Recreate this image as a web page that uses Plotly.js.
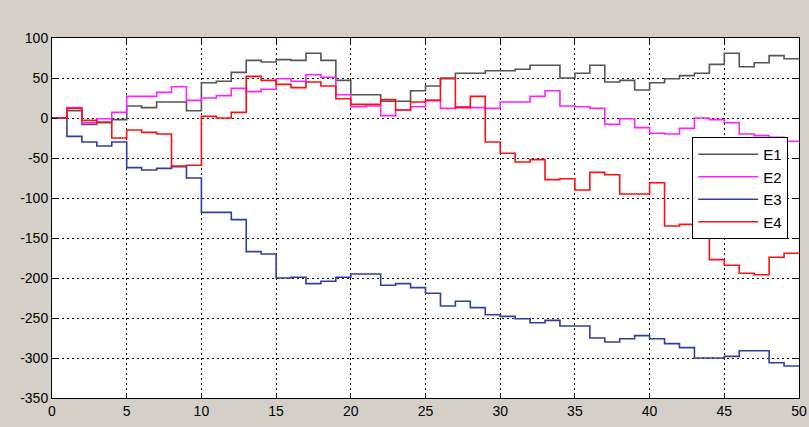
<!DOCTYPE html>
<html>
<head>
<meta charset="utf-8">
<script src="https://cdn.plot.ly/plotly-3.0.1.min.js"></script>
<style>html,body{margin:0;padding:0;background:#d4d0c8;}#chart{width:809px;height:427px;}</style>
</head>
<body>
<div id="chart"></div>
<script>
const xSteps = [0,1,2,3,4,5,6,7,8,9,10,11,12,13,14,15,16,17,18,19,20,21,22,23,24,25,26,27,28,29,30,31,32,33,34,35,36,37,38,39,40,41,42,43,44,45,46,47,48,49,50];
const seriesNames = ["E1","E2","E3","E4"];
const e1 = [0,9,-8,-6,-2,15,13,20,20,9,44,46,57,72,70,73,72,81,72,47,29,29,21,21,34,40,49,56,56,59,59,61,66,66,50,56,66,45,47,35,44,49,53,56,67,81,64,69,78,74,74];
const e2 = [0,13,-6,-1,7,27,27,32,39,22,25,28,37,33,36,49,46,54,51,29,14,15,3,10,14,22,12,14,13,12,20,20,27,34,15,14,12,-8,-1,-12,-19,-20,-13,0,-2,-6,-20,-22,-24,-29,-29];
const e3 = [0,-23,-30,-35,-30,-62,-65,-63,-61,-75,-118,-118,-127,-167,-170,-200,-199,-207,-204,-199,-195,-195,-209,-207,-212,-219,-235,-229,-237,-246,-248,-251,-256,-253,-260,-260,-275,-280,-276,-272,-276,-282,-287,-300,-300,-298,-291,-291,-306,-310,-310];
const e4 = [0,12,-3,-5,-25,-15,-18,-20,-60,-59,2,0,7,52,47,42,38,45,40,24,17,17,23,10,20,22,50,13,27,-30,-44,-55,-52,-77,-76,-90,-68,-71,-95,-95,-81,-135,-133,-150,-177,-184,-194,-196,-174,-169,-169];
const xTicks = [0,5,10,15,20,25,30,35,40,45,50];
const yTicks = [-350,-300,-250,-200,-150,-100,-50,0,50,100];

const values = [e1,e2,e3,e4];
const colors = ["#555555","#ff22ff","#3040a0","#ff1010"];
const traces = values.map((v,i)=>({
  x: xSteps, y: v, name: seriesNames[i], type: "scatter", mode: "lines",
  line: {shape: "hv", color: colors[i], width: 1.6}
}));

const axisBase = {
  showline: true, linecolor: "#000", linewidth: 1, mirror: "ticks",
  ticks: "inside", ticklen: 5, tickcolor: "#000",
  showgrid: true, gridcolor: "#000", griddash: "2px,3px", gridwidth: 1,
  zeroline: false, tickfont: {family: "Liberation Sans, Arial, sans-serif", size: 14, color: "#000"}
};

const layout = {
  width: 809, height: 427,
  margin: {l: 52, r: 10, t: 38, b: 29, pad: 0},
  paper_bgcolor: "#d4d0c8", plot_bgcolor: "#ffffff",
  xaxis: Object.assign({}, axisBase, {range: [0,50], tickvals: xTicks, ticktext: xTicks.map(String)}),
  yaxis: Object.assign({}, axisBase, {range: [-350,100], tickvals: yTicks, ticktext: yTicks.map(String)}),
  showlegend: true,
  legend: {
    x: 0.857, y: 0.725, xanchor: "left", yanchor: "top",
    bgcolor: "#ffffff", bordercolor: "#000", borderwidth: 1,
    font: {family: "Liberation Sans, Arial, sans-serif", size: 15, color: "#000"},
    itemwidth: 60
  }
};

Plotly.newPlot("chart", traces, layout, {staticPlot: true, displayModeBar: false});
</script>
</body>
</html>
